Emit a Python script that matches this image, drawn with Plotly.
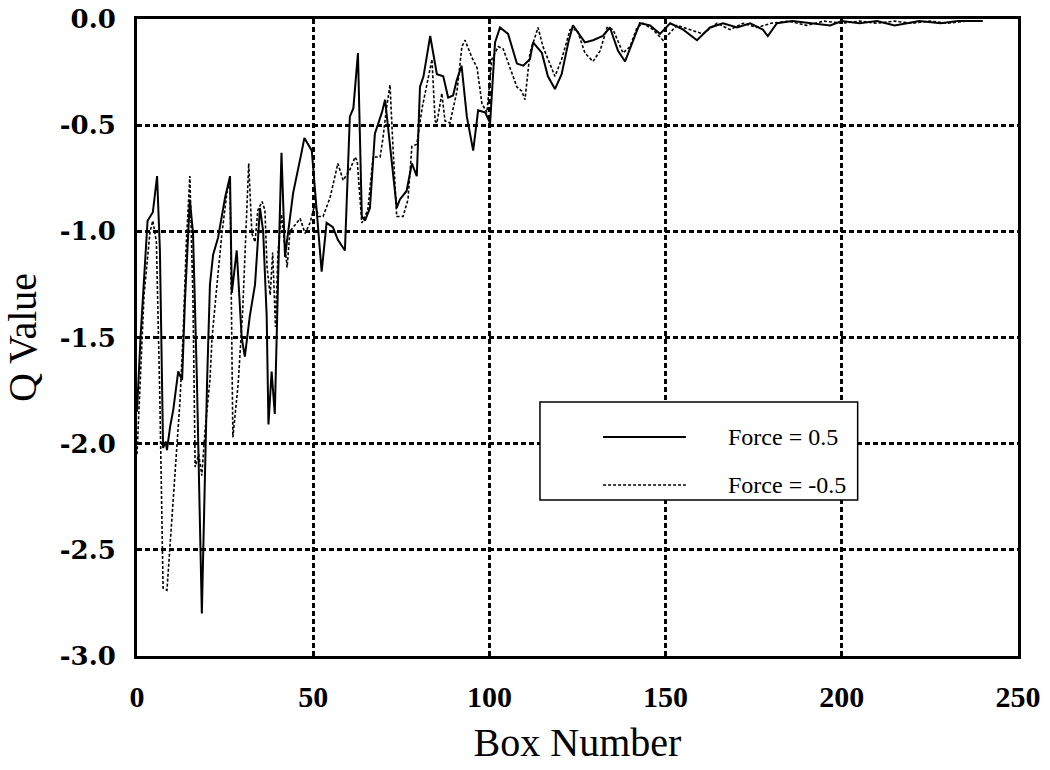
import plotly.graph_objects as go

# Force = 0.5 (solid)
box_pos = [0, 1, 3, 4.5, 5.7, 6.5, 7.4, 8.2, 8.5, 9.4, 10.3, 11.7, 12.8, 13.6, 15, 15.9, 17, 18.4, 19.9,
           20.7, 21.6, 23, 25, 26.4, 26.9, 28.3, 29.7, 30.6, 32, 33.5, 34.9, 35.8, 36.8, 37.3, 38.2, 39.1,
           40, 41, 42, 43, 44.3, 46.8, 47.5, 49.6, 52.4, 53.8, 55.6, 57, 59, 60.4, 61.4, 62.7, 63.8, 64.7,
           66.1, 67.5, 69.5, 70.4, 71.8, 73.7, 74.6, 76.5, 78, 79.4, 80.3, 81.3, 83.2, 85.1, 86.9, 88.3,
           89.7, 90.7, 92.1, 93.6, 95.4, 96.8, 98.8, 100.2, 101.6, 103, 105.3, 107.8, 109.6, 111.5, 112.4,
           114.9, 116.6, 118.6, 120.5, 122.4, 123.7, 127.1, 129.4, 132.2, 134.2, 136.5, 138.5, 140.8, 142.7,
           145.6, 148.4, 151.3, 155, 158.9, 162.6, 166.3, 170.3, 174, 177.6, 179, 181.6, 186, 191, 196.7,
           200, 205, 210, 215, 218.5, 222, 228, 233, 238, 240]
q_pos = [-1.85, -1.50, -0.95, -0.91, -0.74, -1.09, -2.02, -1.99, -2.03, -1.92, -1.84, -1.66, -1.70, -1.33,
         -0.85, -1.01, -1.70, -2.80, -1.70, -1.25, -1.11, -1.03, -0.84, -0.74, -1.29, -1.09, -1.50, -1.59,
         -1.40, -1.25, -0.89, -1.00, -1.40, -1.91, -1.66, -1.86, -1.25, -0.63, -1.12, -0.98, -0.82, -0.62,
         -0.56, -0.62, -1.19, -0.96, -0.98, -1.04, -1.09, -0.46, -0.42, -0.16, -0.93, -0.95, -0.89, -0.54,
         -0.44, -0.38, -0.59, -0.89, -0.85, -0.81, -0.68, -0.74, -0.32, -0.27, -0.08, -0.26, -0.27, -0.37,
         -0.36, -0.29, -0.22, -0.46, -0.62, -0.43, -0.44, -0.49, -0.11, -0.04, -0.07, -0.21, -0.22, -0.19,
         -0.11, -0.16, -0.27, -0.33, -0.26, -0.11, -0.03, -0.11, -0.10, -0.08, -0.04, -0.15, -0.20, -0.10,
         -0.02, -0.03, -0.07, -0.02, -0.05, -0.10, -0.04, -0.02, -0.04, -0.02, -0.05, -0.08, -0.02, -0.01,
         -0.02, -0.03, -0.01, -0.02, -0.01, -0.03, -0.02, -0.01, -0.02, -0.01, -0.01, -0.01]

# Force = -0.5 (dashed)
box_neg = [0, 0.9, 2, 3.7, 4.5, 5.5, 6.5, 7.4, 8.5, 10, 11.4, 12.2, 13.1, 14, 15, 15.9, 16.5, 17.5, 18.4,
           19.3, 20.7, 21.3, 22.7, 24.1, 25.5, 26.4, 27.2, 28.7, 30, 31.2, 31.7, 32.6, 33.5, 34.3, 35.5,
           36.3, 36.9, 37.8, 38.5, 39.3, 40, 41, 42.6, 43.4, 44.8, 46.3, 47.7, 49.1, 50.5, 51.5, 52.8, 54.8,
           57, 58.5, 60.4, 61.9, 62.5, 63.8, 65.5, 67, 69, 69.8, 70.8, 71.8, 72.6, 73.7, 75.5, 76.9, 78,
           79.4, 80.9, 82.3, 83.7, 84.6, 85.1, 86.5, 87.4, 88.8, 90.8, 92.2, 93.1, 95, 96.5, 97.9, 99.3,
           100.7, 102.5, 103.9, 105.8, 107.8, 109.2, 110.1, 111.5, 113.8, 115.2, 117.2, 118.6, 120.5, 122.9,
           124.9, 127.1, 129.4, 131.4, 133.4, 135.1, 137.9, 139.9, 141.9, 143.6, 146.4, 149.3, 153.2, 157,
           160.6, 164.6, 168.3, 172, 175.9, 180, 185, 190, 195, 200, 205, 210, 215, 220, 225, 230, 235, 240]
q_neg = [-2.05, -1.72, -1.30, -1.00, -0.95, -1.05, -1.80, -2.68, -2.69, -2.33, -2.02, -1.80, -1.48, -1.05,
         -0.74, -1.33, -2.11, -2.05, -2.15, -1.94, -1.70, -1.50, -1.25, -1.01, -0.82, -0.76, -1.97, -1.72,
         -1.37, -0.93, -0.68, -1.01, -1.05, -0.90, -0.86, -0.90, -1.17, -1.30, -1.10, -1.45, -1.10, -0.92,
         -1.17, -1.00, -0.97, -0.94, -1.01, -0.96, -0.87, -0.93, -0.93, -0.84, -0.68, -0.76, -0.71, -0.65,
         -0.67, -0.96, -0.90, -0.65, -0.65, -0.56, -0.42, -0.31, -0.59, -0.93, -0.93, -0.85, -0.60, -0.59,
         -0.42, -0.30, -0.19, -0.48, -0.49, -0.35, -0.48, -0.49, -0.34, -0.13, -0.10, -0.18, -0.23, -0.40,
         -0.44, -0.19, -0.13, -0.14, -0.23, -0.32, -0.34, -0.38, -0.16, -0.04, -0.13, -0.21, -0.27, -0.19,
         -0.05, -0.05, -0.16, -0.20, -0.15, -0.04, -0.05, -0.16, -0.13, -0.04, -0.02, -0.05, -0.10, -0.03,
         -0.05, -0.07, -0.02, -0.05, -0.02, -0.04, -0.02, -0.01, -0.03, -0.01, -0.02, -0.01, -0.02, -0.01,
         -0.02, -0.01, -0.02, -0.01, -0.01]

x_ticks = [0, 50, 100, 150, 200, 250]
y_ticks = [0.0, -0.5, -1.0, -1.5, -2.0, -2.5, -3.0]
y_tick_text = ["0.0", "-0.5", "-1.0", "-1.5", "-2.0", "-2.5", "-3.0"]
legend_names = ["Force = 0.5", "Force = -0.5"]

SERIF = "Liberation Serif"
WIDE = "DejaVu Serif"

fig = go.Figure()
fig.add_trace(go.Scatter(x=box_pos, y=q_pos, mode="lines", name=legend_names[0],
                         line=dict(color="black", width=2), showlegend=False))
fig.add_trace(go.Scatter(x=box_neg, y=q_neg, mode="lines", name=legend_names[1],
                         line=dict(color="black", width=1.6, dash="3px,2px"), showlegend=False))

# legend drawn manually (box, samples, labels)
lx0, lx1, ly0, ly1 = 0.4574, 0.818, 0.2449, 0.3987
fig.add_shape(type="rect", xref="paper", yref="paper", x0=lx0, x1=lx1, y0=ly0, y1=ly1,
              fillcolor="white", line=dict(color="black", width=1.5), layer="above")
fig.add_shape(type="line", xref="paper", yref="paper", x0=0.529, x1=0.623, y0=0.3438, y1=0.3438,
              line=dict(color="black", width=2), layer="above")
fig.add_shape(type="line", xref="paper", yref="paper", x0=0.529, x1=0.623, y0=0.2684, y1=0.2684,
              line=dict(color="black", width=1.6, dash="3px,2px"), layer="above")
for name, yy in zip(legend_names, [0.3438, 0.2684]):
    fig.add_annotation(xref="paper", yref="paper", x=0.669, y=yy, text=name, showarrow=False,
                       xanchor="left", yanchor="middle", font=dict(family=SERIF, size=24, color="black"))

fig.update_layout(
    width=1050, height=770,
    margin=dict(l=137, r=32, t=19, b=114, autoexpand=False),
    paper_bgcolor="white", plot_bgcolor="white",
    font=dict(family=SERIF, color="black"),
)
fig.update_xaxes(range=[0, 250], tickvals=x_ticks, ticks="", showline=True, linecolor="black",
                 linewidth=3, mirror=True, showgrid=True, gridcolor="black", gridwidth=2.5,
                 griddash="5px,3px", zeroline=False, automargin=False, ticklabeloverflow="allow",
                 tickfont=dict(family=SERIF, size=30, weight="bold"),
                 ticklabelstandoff=12,
                 title=dict(text="Box Number", font=dict(family=SERIF, size=40), standoff=16))
fig.update_yaxes(range=[-3, 0], tickvals=y_ticks, ticktext=y_tick_text, ticks="", showline=True,
                 linecolor="black", linewidth=3, mirror=True, showgrid=True, gridcolor="black",
                 gridwidth=2.5, griddash="5px,3px", zeroline=False, automargin=False,
                 ticklabeloverflow="allow",
                 tickfont=dict(family=WIDE, size=26, weight="bold"), ticklabelstandoff=13,
                 title=dict(text="Q Value", font=dict(family=SERIF, size=40), standoff=14))

fig.write_html("out.html", config={"displayModeBar": False},
               post_script="document.body.style.margin='0px';")
